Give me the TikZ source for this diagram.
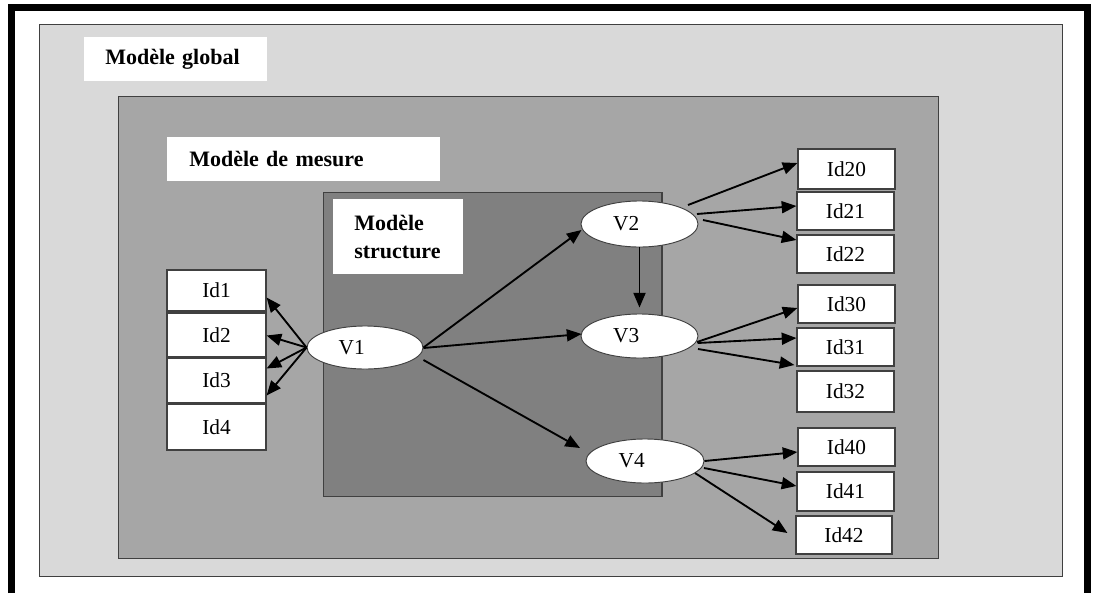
\documentclass[tikz,border=0pt]{standalone}
\usepackage{fontspec}
\setmainfont{Liberation Serif}
\usetikzlibrary{arrows.meta,shapes.geometric}
\definecolor{lightg}{HTML}{D9D9D9}
\definecolor{midg}{HTML}{A6A6A6}
\definecolor{darkg}{HTML}{808080}
\definecolor{edge}{HTML}{404040}
\begin{document}
\begin{tikzpicture}[x=0.75pt,y=-0.75pt,
  container/.style={draw=edge,line width=1.1pt,anchor=north west,inner sep=0pt},
  labelbox/.style={fill=white,draw=none,anchor=north west,inner ysep=0pt,align=left,
    font=\fontsize{16.5}{21}\selectfont\bfseries},
  idbox/.style={draw=edge,fill=white,line width=0.9pt,inner sep=0pt,
    minimum width=72.75pt,font=\fontsize{16}{19}\selectfont},
  lat/.style={ellipse,draw=edge,fill=white,line width=0.7pt,inner sep=0pt,
    minimum width=87.75pt,minimum height=33pt,font=\fontsize{16}{19}\selectfont},
  latlabel/.style={xshift=-10pt,font=\fontsize{16}{19}\selectfont},
  arr/.style={-{Triangle[length=11pt,width=9pt]},line width=1.4pt,black}]
\useasboundingbox (0,0) rectangle (1095,593);
% outer frame
\draw[line width=5.25pt,line join=miter] (11,593) -- (11,7.5) -- (1087,7.5) -- (1087,593);
% containers
\node[container,fill=lightg,minimum width=767.25pt,minimum height=414pt] (global) at (39,24) {};
\node[container,fill=midg,minimum width=615pt,minimum height=346.5pt] (mesure) at (118,96) {};
\node[container,fill=darkg,minimum width=253.9pt,minimum height=228pt] (structure) at (322.5,192) {};
% labels
\node[labelbox,minimum width=137.25pt,minimum height=33pt,inner xsep=15.75pt,text width=105.75pt] (lglobal) at (84,37) {Modèle global};
\node[labelbox,minimum width=204.75pt,minimum height=33pt,inner xsep=16.5pt,text width=171.75pt] (lmesure) at (167,137) {Modèle de mesure};
\node[labelbox,minimum width=97.5pt,minimum height=56.25pt,inner xsep=15.75pt,text width=66pt] (lstructure) at (333,199) {Modèle\\structure};
% left indicators
\node[idbox,minimum width=74.25pt,minimum height=30.75pt] (Id1) at (216.5,290.5) {Id1};
\node[idbox,minimum width=74.25pt,minimum height=33pt] (Id2) at (216.5,335) {Id2};
\node[idbox,minimum width=74.25pt,minimum height=33pt] (Id3) at (216.5,380.5) {Id3};
\node[idbox,minimum width=74.25pt,minimum height=34.5pt] (Id4) at (216.5,427) {Id4};
% right indicators
\node[idbox,minimum height=30pt] (Id20) at (846.5,169) {Id20};
\node[idbox,minimum height=28.5pt] (Id21) at (845.5,211) {Id21};
\node[idbox,minimum height=28.5pt] (Id22) at (845.5,254) {Id22};
\node[idbox,minimum height=28.5pt] (Id30) at (846.5,304) {Id30};
\node[idbox,minimum height=28.5pt] (Id31) at (845.5,347) {Id31};
\node[idbox,minimum height=30.75pt] (Id32) at (845.5,391.5) {Id32};
\node[idbox,minimum height=28.5pt] (Id40) at (846.5,447) {Id40};
\node[idbox,minimum height=29.25pt] (Id41) at (845.5,491.5) {Id41};
\node[idbox,minimum width=72pt,minimum height=28.5pt] (Id42) at (844,535) {Id42};
% latent variables
\node[lat,minimum width=87pt,minimum height=32.25pt,label={[latlabel]center:V1}] (V1) at (365,347.5) {};
\node[lat,minimum height=34.5pt,label={[latlabel]center:V2}] (V2) at (639.5,224) {};
\node[lat,label={[latlabel]center:V3}] (V3) at (639.5,336) {};
\node[lat,minimum width=88.5pt,label={[latlabel]center:V4}] (V4) at (645,461) {};
% arrows from V1
\draw[arr] (V1.west) -- ([shift={(0,7)}]Id1.east);
\draw[arr] (V1.west) -- ([shift={(0,0.5)}]Id2.east);
\draw[arr] (V1.west) -- ([shift={(0,-12)}]Id3.east);
\draw[arr] (V1.west) -- ([shift={(0,15)}]Id3.east);
\draw[arr] (V1.east) -- ([shift={(-58,6)}]V2.center);
\draw[arr] ([shift={(0,0.5)}]V1.east) -- ([shift={(-58,-2)}]V3.center);
\draw[arr] ([shift={(0,12.5)}]V1.east) -- ([shift={(-65,-13)}]V4.center);
% V2
\draw[arr] (V2.south) -- ([shift={(0,-6)}]V3.north);
\draw[arr] ([shift={(48.5,-19)}]V2.center) -- ([shift={(0,-6)}]Id20.west);
\draw[arr] ([shift={(57.5,-10)}]V2.center) -- ([shift={(0,-5)}]Id21.west);
\draw[arr] ([shift={(63.5,-4)}]V2.center) -- ([shift={(0,-14)}]Id22.west);
% V3
\draw[arr] ([shift={(57.5,6)}]V3.center) -- ([shift={(0,4)}]Id30.west);
\draw[arr] ([shift={(58,7)}]V3.center) -- ([shift={(0,-9)}]Id31.west);
\draw[arr] ([shift={(58.5,13)}]V3.center) -- ([shift={(-2,18)}]Id31.west);
% V4
\draw[arr] (V4.east) -- ([shift={(0,5)}]Id40.west);
\draw[arr] ([shift={(59,7)}]V4.center) -- ([shift={(0,-5.5)}]Id41.west);
\draw[arr] ([shift={(50,12)}]V4.center) -- ([shift={(-8,-2)}]Id42.west);
\end{tikzpicture}
\end{document}
